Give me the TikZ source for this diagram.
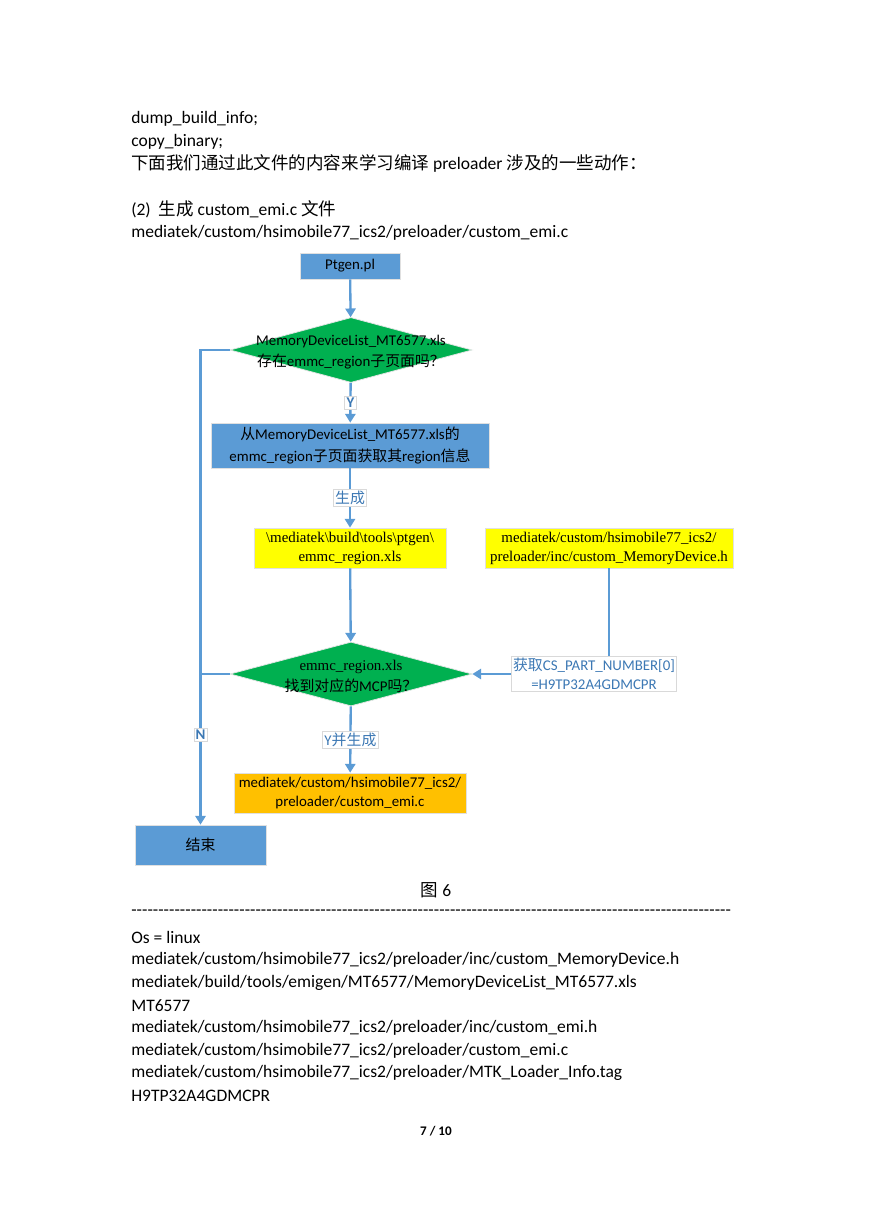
\documentclass[tikz,border=0pt]{standalone}
\usepackage{fontspec}
\setmainfont{Carlito}
\newfontfamily\zhfont{Noto Sans CJK SC}
\newfontfamily\tmsfont{Liberation Serif}
\newcommand{\zh}[1]{{\zhfont #1}}
\usepackage{tikz}
\usetikzlibrary{calc}
\usetikzlibrary{arrows.meta}
\usetikzlibrary{shapes.geometric}
\usetikzlibrary{positioning}
\definecolor{flowblue}{HTML}{5B9BD5}
\definecolor{dgreen}{HTML}{00B050}
\definecolor{ylw}{HTML}{FFFF00}
\definecolor{orng}{HTML}{FFC000}
\definecolor{lbltext}{HTML}{3C78B4}
\newdimen\pxu \pxu=0.685pt
\tikzset{blockbox/.style={draw=black!12,line width=0.5pt,fill=flowblue,align=center,inner sep=0pt,font=\fontsize{10.2}{14.4}\selectfont}}
\tikzset{filebox/.style={blockbox,fill=ylw,font=\tmsfont\fontsize{10.2}{13}\selectfont}}
\tikzset{outbox/.style={blockbox,fill=orng,font=\fontsize{10.2}{13.5}\selectfont}}
\tikzset{decision/.style={diamond,draw=black!10,line width=0.5pt,fill=dgreen,inner sep=0pt,minimum width=242*\pxu,minimum height=65*\pxu}}
\tikzset{dtext/.style={align=center,inner sep=0pt,font=\fontsize{10.2}{14.4}\selectfont}}
\tikzset{lbl/.style={fill=white,draw=black!15,line width=0.4pt,text=lbltext,inner sep=1.2pt,align=center,font=\fontsize{10.2}{13}\selectfont}}
\tikzset{flow/.style={draw=flowblue,line width=1.6pt,-{Triangle[width=7pt,length=6pt]}}}
\tikzset{plain/.style={draw=flowblue,line width=1.6pt}}
\tikzset{bodytext/.style={anchor=west,inner sep=0pt,font=\fontsize{12}{14}\selectfont}}

\begin{document}
\begin{tikzpicture}[x=0.685pt,y=-0.685pt,node distance=0.4cm]
\useasboundingbox[fill=white] (0,0) rectangle (869,1228);
% text above the chart
\node[bodytext] (t1) at (131,118.5) {dump\_build\_info;};
\node[bodytext] (t2) at (131,141.5) {copy\_binary;};
\node[bodytext] (t3) at (131,163.5) {\zh{下面我们通过此文件的内容来学习编译} preloader \zh{涉及的一些动作：}};
\node[bodytext] (t4) at (131,209.5) {(2)\ \ \zh{生成} custom\_emi.c \zh{文件}};
\node[bodytext] (t5) at (131,232.5) {mediatek/custom/hsimobile77\_ics2/preloader/custom\_emi.c};

% flow chart
\node[blockbox,minimum width=100*\pxu,minimum height=26*\pxu] (P) at (350,266) {Ptgen.pl};
\node[decision] (D1) at (351,350) {};
\node[dtext] (D1t) at (351,352) {MemoryDeviceList\_MT6577.xls\\\zh{存在}emmc\_region\zh{子页面吗？}};
\node[blockbox,minimum width=278*\pxu,minimum height=45*\pxu] (B) at (350,445.5) {\zh{从}MemoryDeviceList\_MT6577.xls\zh{的}\\emmc\_region\zh{子页面获取其}region\zh{信息}};
\node[filebox,minimum width=192*\pxu,minimum height=40*\pxu] (F1) at (350,548) {\textbackslash mediatek\textbackslash build\textbackslash tools\textbackslash ptgen\textbackslash\\emmc\_region.xls};
\node[filebox,minimum width=248*\pxu,minimum height=40*\pxu] (F2) at (609,548) {mediatek/custom/hsimobile77\_ics2/\\preloader/inc/custom\_MemoryDevice.h};
\node[decision,minimum height=64*\pxu] (D2) at (351,674) {};
\node[dtext] (D2t) at (351,676) {{\tmsfont emmc\_region.xls}\\\zh{找到对应的}MCP\zh{吗？}};
\node[outbox,minimum width=232*\pxu,minimum height=40*\pxu] (O) at (350,793) {mediatek/custom/hsimobile77\_ics2/\\preloader/custom\_emi.c};
\node[blockbox,minimum width=131*\pxu,minimum height=40*\pxu] (E) at (200.5,845) {\zh{结束}};

\draw[flow] (P) -- (D1);
\draw[flow] (D1) -- node[lbl]{\textbf{Y}} (B);
\draw[flow] (B) -- node[lbl]{\zh{生成}} (F1);
\draw[flow] (F1) -- (D2);
\draw[flow] (D2) -- node[lbl]{Y\zh{并生成}} (O);
\draw[flow] (D1.west) -- (D1.west -| E.north) -- node[lbl,pos=0.81]{\textbf{N}} (E.north);
\draw[plain] (D2.west) -- (D2.west -| E.north);
\draw[flow] (F2.south) -- (F2.south |- D2.east) -- node[lbl,pos=0.11]{\zh{获取}CS\_PART\_NUMBER[0]\\=H9TP32A4GDMCPR} (D2.east);

% caption and text below
\node[bodytext,anchor=center] (cap) at (436,890) {\zh{图} 6};
\node[bodytext] (dash) at (131,913) {\hbox to 411pt{\xleaders\hbox{-}\hfill}};
\foreach \t [count=\i from 0] in {Os = linux,
  mediatek/custom/hsimobile77\_ics2/preloader/inc/custom\_MemoryDevice.h,
  mediatek/build/tools/emigen/MT6577/MemoryDeviceList\_MT6577.xls,
  MT6577,
  mediatek/custom/hsimobile77\_ics2/preloader/inc/custom\_emi.h,
  mediatek/custom/hsimobile77\_ics2/preloader/custom\_emi.c,
  mediatek/custom/hsimobile77\_ics2/preloader/MTK\_Loader\_Info.tag,
  H9TP32A4GDMCPR} {
	\node[bodytext] (L\i) at (131,937.5+22.57*\i) {\t};
}
\node[bodytext,anchor=center,font=\bfseries\fontsize{9}{11}\selectfont] (pg) at (436,1131) {7 / 10};
\end{tikzpicture}
\end{document}
